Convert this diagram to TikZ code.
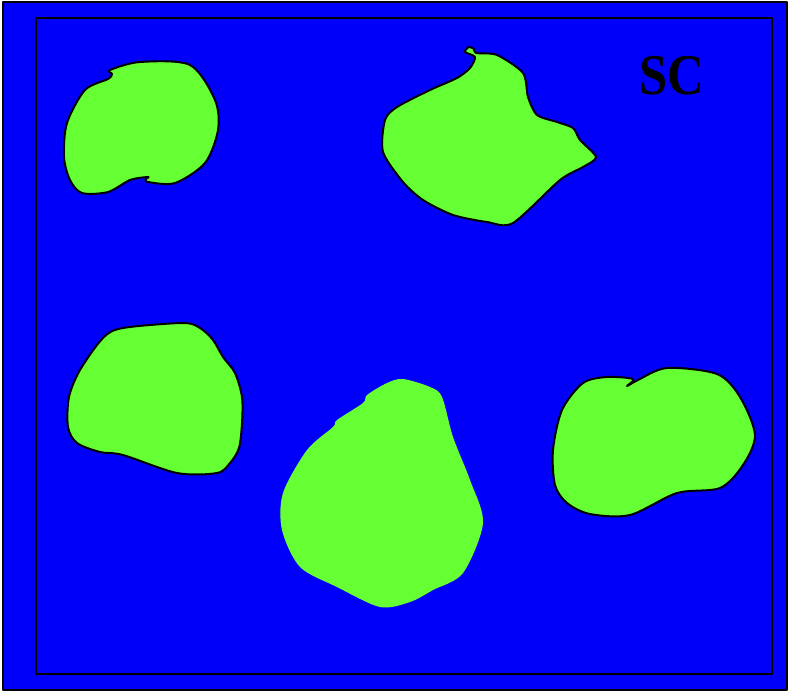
\documentclass[tikz,border=0pt]{standalone}
\usepackage{fontspec}
\setmainfont{Liberation Serif}
\usepackage{tikz}
\usepackage{xcolor}
\definecolor{cellgreen}{RGB}{102,255,51}
\definecolor{sea}{RGB}{0,0,250}

\begin{document}
\begin{tikzpicture}[x=0.025cm,y=-0.025cm,line join=round,
  cell/.style={fill=cellgreen,draw=black,line width=1.4pt},
  bare/.style={fill=cellgreen}]
\useasboundingbox (0,0) rectangle (788,693);
% frame
\draw[fill=sea,line width=1.1pt] (3,2) rectangle (787,690);
\draw[line width=1pt] (36,18) rectangle (772,674);
% top left
\draw[cell] plot[smooth cycle,tension=0.5] coordinates {
  (110,70) (140,62) (190,65) (215,100) (218,130) (205,163) (175,183)
  (148,182) (146,179) (148,177) (130,180) (108,192) (82,193) (70,180)
  (64,157) (67,123) (85,90) (108,79) (112,74)};
% top middle
\draw[cell] plot[smooth cycle,tension=0.45] coordinates {
  (476,53) (497,55) (523,73) (528,97) (537,115) (557,122) (573,128)
  (580,140) (596,157) (583,167) (560,180) (513,223) (487,222) (453,215)
  (423,200) (403,182) (383,152) (385,120) (397,107) (430,90) (457,78)
  (470,68) (475,57) (465,52) (469,47) (474,49)};
% middle left
\draw[cell] plot[smooth cycle,tension=0.5] coordinates {
  (123,328) (183,323) (200,328) (213,340) (223,357) (235,373) (242,397)
  (242,423) (239,448) (230,463) (217,473) (177,473) (123,455) (100,452)
  (77,443) (68,427) (69,397) (80,370) (103,338)};
% bottom middle
\fill[bare] plot[smooth cycle,tension=0.5] coordinates {
  (403,379) (387,383) (367,395) (363,403) (337,420) (333,427) (307,450)
  (283,493) (282,530) (300,567) (337,587) (380,607) (410,602) (433,590)
  (463,573) (483,523) (470,480) (453,437) (442,397) (430,387)};
% middle right
\draw[cell] plot[smooth cycle,tension=0.5] coordinates {
  (607,377) (633,379) (627,386) (638,380) (667,368) (717,374) (740,397)
  (755,435) (743,465) (720,488) (677,493) (630,515) (590,514) (567,503)
  (555,485) (553,450) (562,410) (583,383)};
\node[font=\bfseries,scale=4.1,xscale=0.88] (sc) at (672,76) {SC};
\end{tikzpicture}
\end{document}
